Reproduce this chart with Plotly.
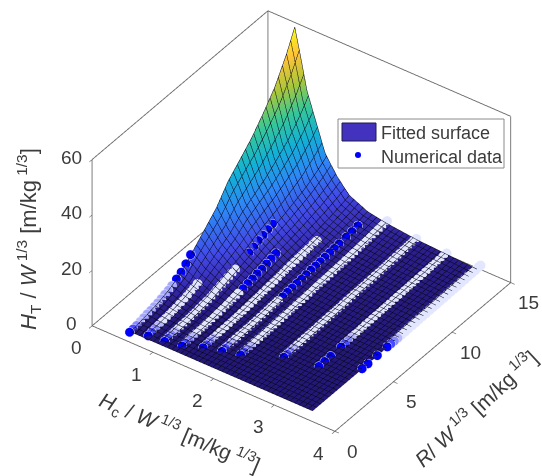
import plotly.graph_objects as go

# ---------- surface values ----------
hc_nodes = [0.5, 0.6, 0.7, 0.8, 1.0, 1.2, 1.4, 1.7, 2.0, 2.5, 3.0, 3.5]
r_nodes = [0.7, 2, 3, 4, 5, 6, 7, 8, 9, 10, 11, 12, 13, 14, 14.7]
z_table = [
    [0.1, 0.1, 0.1, 0.1, 0.1, 0.1, 0.1, 0.1, 0.1, 0.1, 0.1, 0.1],
    [1.2, 1.0, 0.8, 0.6, 0.4, 0.3, 0.2, 0.1, 0.1, 0.1, 0.1, 0.1],
    [2.1, 1.7, 1.4, 1.1, 0.7, 0.4, 0.3, 0.2, 0.1, 0.1, 0.1, 0.1],
    [3.6, 3.0, 2.3, 1.9, 1.2, 0.8, 0.5, 0.3, 0.2, 0.1, 0.1, 0.1],
    [6.0, 5.0, 3.9, 3.2, 1.9, 1.3, 0.8, 0.5, 0.4, 0.2, 0.2, 0.1],
    [10.2, 8.5, 6.6, 5.5, 3.3, 2.1, 1.3, 0.8, 0.6, 0.4, 0.3, 0.2],
    [14.4, 12.0, 9.4, 7.8, 4.6, 3.0, 1.9, 1.2, 0.9, 0.6, 0.4, 0.3],
    [18.6, 15.4, 12.1, 10.0, 6.0, 3.9, 2.4, 1.5, 1.1, 0.7, 0.6, 0.4],
    [24.6, 20.4, 16.0, 13.3, 7.9, 5.2, 3.2, 2.0, 1.5, 1.0, 0.7, 0.5],
    [28.8, 23.9, 18.7, 15.6, 9.2, 6.0, 3.7, 2.3, 1.7, 1.2, 0.9, 0.6],
    [33.0, 27.4, 21.5, 17.8, 10.6, 6.9, 4.3, 2.6, 2.0, 1.3, 1.0, 0.7],
    [38.4, 31.9, 25.0, 20.7, 12.3, 8.1, 5.0, 3.1, 2.3, 1.5, 1.2, 0.8],
    [44.4, 36.9, 28.9, 24.0, 14.2, 9.3, 5.8, 3.6, 2.7, 1.8, 1.3, 0.9],
    [52.8, 43.8, 34.3, 28.5, 16.9, 11.1, 6.9, 4.2, 3.2, 2.1, 1.6, 1.1],
    [60.0, 49.8, 39.0, 32.4, 19.2, 12.6, 7.8, 4.8, 3.6, 2.4, 1.8, 1.2],
]

# ---------- numerical data, one list per scaled charge height ----------
data_hc = [0.5, 0.75, 1.0, 1.25, 1.5, 1.75, 2.0, 2.5, 3.0, 3.5]
data_r = [
    [0.6, 0.9, 1.2, 1.5, 1.8, 2.1, 2.4, 2.7, 3.0, 3.3, 3.6, 3.9, 4.2, 4.6, 5.0, 5.4, 5.8],
    [0.9, 1.2, 1.5, 1.8, 2.1, 2.4, 2.7, 3.0, 3.3, 3.6, 3.9, 4.2, 4.5, 4.8, 5.1],
    [1.0, 1.3, 1.6, 1.9, 2.2, 2.5, 2.8, 3.1, 3.4, 3.7, 4.0, 4.3, 4.6, 4.9, 5.2, 5.5, 5.8, 6.1, 6.4, 6.7, 7.0,
     8.2, 8.6, 9.0, 9.4, 9.8, 10.2],
    [1.2, 1.5, 1.8, 2.1, 2.4, 2.7, 3.0, 3.3, 3.6, 3.9, 4.2, 4.5, 4.8, 5.1, 5.4, 5.7,
     6.0, 6.4, 6.8, 7.2, 7.6, 8.0, 8.4, 8.8, 9.2],
    [1.7, 2.0, 2.3, 2.6, 2.9, 3.2, 3.5, 3.8, 4.1, 4.4, 4.7, 5.0, 5.3, 5.6, 5.9, 6.2, 6.5, 6.8, 7.1, 7.4, 7.7,
     8.0, 8.3, 8.6, 8.9, 9.2, 9.5, 9.8, 10.1, 10.4, 10.7, 11.1, 11.4],
    [2.0, 2.3, 2.6, 2.9, 3.2, 3.5, 3.8, 4.1, 4.4, 4.7, 5.0, 5.3, 5.6, 5.9, 6.2, 6.5,
     6.8, 7.2, 7.6, 8.0, 8.4, 8.8, 9.2, 9.6, 10.0, 10.4, 10.8, 11.2, 11.6, 12.0, 12.6, 13.1, 13.6],
    [2.3, 2.6, 2.9, 3.2, 3.5, 3.8, 4.1, 4.4, 4.7, 5.0, 5.3, 5.6, 5.9, 6.2, 6.5, 6.8, 7.1, 7.4, 7.7, 8.0, 8.3,
     8.6, 8.9, 9.2, 9.5, 9.8, 10.1, 10.4, 10.7, 11.0, 11.3, 11.6, 11.9, 12.2, 12.5, 12.8, 13.1, 13.4, 13.7,
     14.0, 14.3, 14.6, 14.8],
    [3.4, 3.7, 4.0, 4.3, 4.6, 4.9, 5.2, 5.5, 5.8, 6.1, 6.4, 6.7, 7.0, 7.3, 7.6, 7.9, 8.2, 8.5, 8.8, 9.1, 9.4,
     9.7, 10.0, 10.3, 10.6, 10.9, 11.2, 11.5, 11.8, 12.1, 12.4, 12.7, 13.0, 13.3, 13.6, 13.9, 14.2, 14.5, 14.7],
    [3.8, 4.3, 4.8, 5.7, 6.0, 6.3, 6.6, 6.9, 7.2, 7.5, 7.8, 8.1, 8.4, 8.7, 9.0, 9.3, 9.6, 9.9, 10.2, 10.5,
     10.8, 11.1, 11.4, 11.7, 12.0, 12.3, 12.6, 12.9, 13.2, 13.5, 13.8, 14.1, 14.4, 14.7],
    [4.9, 5.4, 6.2, 7.05, 7.35, 7.65, 7.95, 8.25, 8.55, 8.85, 9.15, 9.45, 9.75, 10.05, 10.35, 10.65, 10.95,
     11.25, 11.55, 11.85, 12.15, 12.45, 12.75, 13.05, 13.35, 13.65, 13.95, 14.25, 14.55, 14.85, 15.0],
]
data_z = [
    [0.1, 0.2, 0.4, 0.7, 1.0, 1.3, 1.5, 1.8, 2.1, 2.5, 3.0, 3.4, 4.0, 5.0, 6.0, 7.6, 9.5],
    [0.1, 0.3, 0.4, 0.6, 0.8, 0.9, 1.1, 1.3, 1.5, 1.8, 2.0, 2.4, 2.8, 3.2, 3.8],
    [0.1, 0.2, 0.3, 0.4, 0.4, 0.5, 0.6, 0.7, 0.9, 1.0, 1.2, 1.4, 1.6, 1.8, 2.2, 2.6, 3.0, 3.4, 3.8, 4.2, 4.6,
     6.3, 7.0, 7.9, 8.4, 9.0, 9.6],
    [0.1, 0.1, 0.2, 0.3, 0.3, 0.3, 0.4, 0.5, 0.6, 0.6, 0.8, 0.9, 1.0, 1.2, 1.4, 1.7,
     1.9, 2.2, 2.6, 2.9, 3.3, 3.5, 4.0, 4.4, 4.9],
    [0.1, 0.1, 0.2, 0.2, 0.2, 0.3, 0.3, 0.4, 0.4, 0.5, 0.6, 0.7, 0.8, 0.9, 1.1, 1.2, 1.3, 1.5, 1.6, 1.8, 1.9,
     2.0, 2.2, 2.4, 2.6, 2.8, 2.9, 3.1, 3.2, 3.4, 3.5, 3.8, 3.9],
    [0.1, 0.1, 0.1, 0.2, 0.2, 0.2, 0.2, 0.3, 0.3, 0.4, 0.4, 0.5, 0.6, 0.7, 0.9, 1.0,
     1.1, 1.2, 1.4, 1.5, 1.7, 1.8, 2.0, 2.2, 2.3, 2.4, 2.6, 2.8, 2.9, 3.1, 3.4, 3.6, 3.9],
    [0.1, 0.1, 0.1, 0.1, 0.2, 0.2, 0.2, 0.3, 0.3, 0.4, 0.5, 0.5, 0.6, 0.7, 0.7, 0.8, 0.9, 1.0, 1.0, 1.1, 1.2,
     1.3, 1.4, 1.5, 1.6, 1.6, 1.7, 1.8, 1.9, 2.0, 2.1, 2.2, 2.3, 2.3, 2.5, 2.6, 2.7, 2.8, 3.0, 3.2, 3.4, 3.6, 3.7],
    [0.1, 0.1, 0.1, 0.2, 0.2, 0.2, 0.3, 0.3, 0.4, 0.4, 0.5, 0.5, 0.6, 0.7, 0.7, 0.8, 0.8, 0.9, 1.0, 1.0, 1.1,
     1.1, 1.2, 1.2, 1.3, 1.3, 1.4, 1.4, 1.5, 1.6, 1.7, 1.7, 1.8, 1.9, 2.0, 2.1, 2.2, 2.3, 2.4],
    [0.1, 0.1, 0.2, 0.3, 0.3, 0.3, 0.4, 0.4, 0.4, 0.5, 0.6, 0.6, 0.7, 0.7, 0.7, 0.8, 0.8, 0.9, 0.9, 1.0,
     1.0, 1.1, 1.1, 1.2, 1.2, 1.2, 1.3, 1.4, 1.4, 1.5, 1.5, 1.6, 1.7, 1.9],
    [0.1, 0.1, 0.2, 0.3, 0.3, 0.3, 0.3, 0.4, 0.4, 0.5, 0.5, 0.5, 0.6, 0.6, 0.6, 0.7, 0.7,
     0.7, 0.8, 0.8, 0.8, 0.9, 0.9, 0.9, 1.0, 1.0, 1.1, 1.1, 1.1, 1.2, 1.2],
]

x_ticks = [0, 1, 2, 3, 4]
y_ticks = [0, 5, 10, 15]
z_ticks = [0, 20, 40, 60]
x_range = [0, 4]
y_range = [0, 15]
z_range = [0, 60]

# parula, with the low end darkened: the reference's dense black mesh dims the flat region
parula = [
    [0.000, "rgb(36,24,118)"], [0.030, "rgb(44,30,140)"], [0.080, "rgb(58,50,190)"],
    [0.143, "rgb(66,74,232)"], [0.286, "rgb(46,135,247)"],
    [0.429, "rgb(18,177,214)"], [0.571, "rgb(55,200,151)"], [0.714, "rgb(171,199,57)"],
    [0.857, "rgb(254,195,56)"], [1.000, "rgb(249,251,21)"],
]
LINE = "#6a6a6a"
TEXT = "#3c3c3c"
FONT = "Liberation Sans, Arial, sans-serif"
DOT = "#0000ff"
DENSE = "#e2e6ff"
DENSE_EDGE = "#a4a8ff"
RAMP = ["#4a4aff", "#8a8aff", "#b8b8ff"]
W, H = 542, 476
LIFT = 0.25  # keeps the dots clear of the surface so the depth test does not cut them

fig = go.Figure()

# frame of the axes box, from the axis ranges
x0, x1 = x_range
y0, y1 = y_range
z0, z1 = z_range
edges = [
    ((x0, y0, z0), (x1, y0, z0)), ((x1, y0, z0), (x1, y1, z0)), ((x1, y1, z0), (x0, y1, z0)),
    ((x0, y1, z0), (x0, y0, z0)), ((x0, y0, z0), (x0, y0, z1)), ((x0, y1, z0), (x0, y1, z1)),
    ((x1, y1, z0), (x1, y1, z1)), ((x0, y0, z1), (x0, y1, z1)), ((x0, y1, z1), (x1, y1, z1)),
]
fx, fy, fz = [], [], []
for a, b in edges:
    fx += [a[0], b[0], None]
    fy += [a[1], b[1], None]
    fz += [a[2], b[2], None]
fig.add_trace(go.Scatter3d(x=fx, y=fy, z=fz, mode="lines", line=dict(color=LINE, width=1.8),
                           hoverinfo="skip", showlegend=False))

fig.add_trace(go.Surface(
    x=hc_nodes, y=r_nodes, z=z_table, colorscale=parula, cmin=0, cmax=60, showscale=False,
    lighting=dict(ambient=1, diffuse=0, specular=0, roughness=1, fresnel=0),
    contours=dict(
        x=dict(show=True, start=0.5, end=3.5, size=0.075, color="#06061a", width=1),
        y=dict(show=True, start=0.7, end=14.7, size=0.35, color="#06061a", width=1),
        z=dict(show=False),
    ),
    hoverinfo="skip", showlegend=False,
))


def dot_colors(rs, dense):
    """Closely spaced runs read as a pale band in the reference; spaced dots stay blue."""
    colors = []
    run = 0
    for i, v in enumerate(rs):
        prev_gap = v - rs[i - 1] if i > 0 else 9
        next_gap = rs[i + 1] - v if i + 1 < len(rs) else 9
        if prev_gap > 0.45:
            run = 0  # a run starts here
        if min(prev_gap, next_gap) >= 0.35 or run == 0:
            colors.append(DOT)
        elif run <= len(RAMP):
            colors.append(RAMP[run - 1])
        else:
            colors.append(dense)
        run += 1
    return colors


for hc, rs, zs in zip(data_hc, data_r, data_z):
    fig.add_trace(go.Scatter3d(
        x=[hc] * len(rs), y=rs, z=[v + LIFT for v in zs], mode="markers",
        marker=dict(size=5.5, color=dot_colors(rs, DENSE_EDGE if hc == data_hc[0] else DENSE),
                    line=dict(color="#e8e8ff", width=1)),
        hoverinfo="skip", showlegend=False,
    ))


def axis(ticks, rng):
    return dict(
        range=rng, tickmode="array", tickvals=ticks, ticktext=[str(t) for t in ticks],
        title=dict(text=""), showgrid=False, zeroline=False, showbackground=False,
        showspikes=False, showline=False, ticks="outside", ticklen=5, tickcolor=LINE, tickwidth=1.5,
        showticklabels=False,
    )


def tick_note(x, y, z, text, xs, ys):
    return dict(x=x, y=y, z=z, text=str(text), showarrow=False, xshift=xs, yshift=ys,
                xanchor="center", yanchor="middle", font=dict(family=FONT, size=19, color=TEXT))


notes = [tick_note(v, y0, z0, v, -16, -22) for v in x_ticks]
notes += [tick_note(x1, v, z0, v, 18, -20) for v in y_ticks]
notes += [tick_note(x0, y0, v, v, -21, 2) for v in z_ticks]

r = 1.75
right = (0.813, 0.582, 0.0)
up = (-0.353, 0.493, 0.795)
view = (0.463, -0.646, 0.606)
center = tuple(-(0.1278 * a + 0.0712 * b) for a, b in zip(right, up))
eye = tuple(c + r * v for c, v in zip(center, view))

fig.update_layout(
    width=W, height=H, margin=dict(l=0, r=0, t=0, b=0), paper_bgcolor="white", showlegend=False,
    font=dict(family=FONT, color=TEXT),
    scene=dict(
        xaxis=axis(x_ticks, x_range), yaxis=axis(y_ticks, y_range), zaxis=axis(z_ticks, z_range),
        aspectmode="manual", aspectratio=dict(x=1.255, y=1.268, z=0.8785),
        camera=dict(projection=dict(type="orthographic"), eye=dict(x=eye[0], y=eye[1], z=eye[2]),
                    center=dict(x=center[0], y=center[1], z=center[2]), up=dict(x=0, y=0, z=1)),
        domain=dict(x=[0, 1], y=[0, 1]), dragmode=False, annotations=notes,
    ),
)


def px(x):
    return x / W


def py(y):
    return 1 - y / H


def label(text, x, y, angle=0, size=18, anchor="center"):
    fig.add_annotation(text=text, xref="paper", yref="paper", x=px(x), y=py(y), showarrow=False,
                       textangle=angle, xanchor=anchor, yanchor="middle",
                       font=dict(family=FONT, size=size, color=TEXT))


label("<i>H</i><sub>T</sub> / <i>W</i><sup> 1/3</sup> [m/kg<sup> 1/3</sup>]", 28, 239, angle=-90, size=22)
label("<i>H</i><sub>c</sub> / <i>W</i><sup> 1/3</sup> [m/kg<sup> 1/3</sup>]", 180, 432, angle=23, size=21)
label("<i>R</i>/ <i>W</i><sup> 1/3</sup> [m/kg<sup> 1/3</sup>]", 475, 408, angle=-43, size=21)

# legend box
fig.add_shape(type="rect", xref="paper", yref="paper", x0=px(338), x1=px(504), y0=py(168), y1=py(119),
              line=dict(color="#8a8a8a", width=1), fillcolor="white", layer="above")
fig.add_shape(type="rect", xref="paper", yref="paper", x0=px(342), x1=px(376), y0=py(141), y1=py(123),
              line=dict(color="#1c1c50", width=1), fillcolor="rgb(66,50,190)", layer="above")
fig.add_shape(type="circle", xref="paper", yref="paper", x0=px(355), x1=px(361), y0=py(158), y1=py(152),
              line=dict(color=DOT, width=0), fillcolor=DOT, layer="above")
label("Fitted surface", 379, 133, size=18, anchor="left")
label("Numerical data", 379, 157, size=18, anchor="left")

# the browser's default 8px page margin would push the fixed-size figure off the window
fig.write_html("out.html", config=dict(displayModeBar=False),
               post_script="document.body.style.margin='0';document.body.style.overflow='hidden';")
